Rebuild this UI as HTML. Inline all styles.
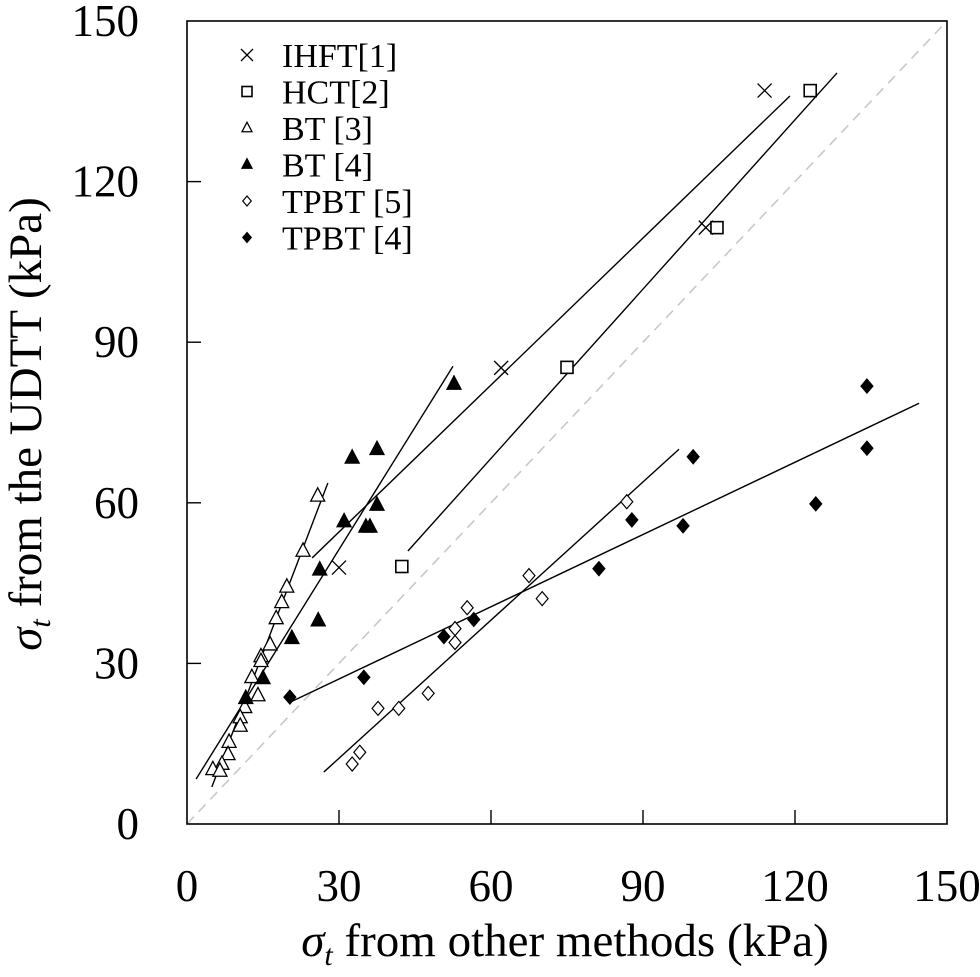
<!DOCTYPE html>
<html><head><meta charset="utf-8"><style>
html,body{margin:0;padding:0;background:#fff}
svg{display:block}
text{font-family:"Liberation Serif",serif;fill:#000}
</style></head><body>
<svg id="chart" width="980" height="977" viewBox="0 0 980 977" xmlns="http://www.w3.org/2000/svg">
<g id="plot"></g>
</svg>
<script>
const ticks=[0,30,60,90,120,150];
const seriesNames=["IHFT[1]","HCT[2]","BT [3]","BT [4]","TPBT [5]","TPBT [4]"];
const ihftX=[30,62,102.4,114];
const ihftY=[47.9,85.2,111.4,137];
const hctX=[42.4,75,104.6,123];
const hctY=[48.1,85.3,111.4,137];
const bt3X=[25.8,22.9,19.7,18.7,17.6,16.4,14.6,14.6,12.8,14,11.4,10.5,10.5,8.3,8.1,6.9,5.1,6.5];
const bt3Y=[61.3,51,44.3,41.4,38.4,33.5,31.3,30.4,27.4,24,21.8,19.9,18.3,15.3,13,11.2,10.2,9.9];
const bt4X=[31,26.2,25.9,20.7,15,11.6,32.6,37.5,37.5,36.1,35.3,52.7];
const bt4Y=[56.5,47.5,38,34.7,27.2,23.5,68.4,70,59.6,55.5,55.5,82.2];
const tp5X=[32.6,34.1,37.7,41.8,47.6,52.9,52.9,55.3,67.5,70.1,86.8];
const tp5Y=[11.2,13.4,21.6,21.6,24.4,36.5,33.9,40.4,46.4,42.1,60.2];
const tp4X=[20.3,34.9,50.7,56.6,81.3,87.8,97.9,99.9,124.1,134.2,134.2];
const tp4Y=[23.7,27.4,35,38.2,47.7,56.8,55.7,68.6,59.8,81.8,70.2];
// fit lines: [x1,y1,x2,y2]
const fitIhft=[24.7,49.7,119,136];
const fitHct=[43.6,51,128.3,140.3];
const fitBt3=[4.9,6.9,27.8,63.7];
const fitBt4=[1.8,8.4,52.5,85.5];
const fitTp5=[27,9.7,97.1,70];
const fitTp4=[20.7,22.9,144.5,78.6];

const X0=187,X1=947,Y0=824,Y1=21;
const sx=v=>X0+(X1-X0)*v/150;
const sy=v=>Y0-(Y0-Y1)*v/150;
const NS="http://www.w3.org/2000/svg";
const g=document.getElementById('plot');
function el(tag,attrs,parent){const e=document.createElementNS(NS,tag);for(const k in attrs)e.setAttribute(k,attrs[k]);(parent||g).appendChild(e);return e;}

const diag=el('line',{x1:sx(0),y1:sy(0),x2:sx(150),y2:sy(150),stroke:'#c8c8c8','stroke-width':1.6,'stroke-dasharray':'10,7'});



const fr=el('rect',{x:X0,y:Y1,width:X1-X0,height:Y0-Y1,fill:'none',stroke:'#000','stroke-width':1.6});



ticks.forEach((t,i)=>{
  if(i>0&&i<ticks.length-1){
    const a=el('line',{x1:sx(t),y1:Y0,x2:sx(t),y2:Y0-14,stroke:'#000','stroke-width':1.4});
    
    
    const b=el('line',{x1:X0,y1:sy(t),x2:X0+14,y2:sy(t),stroke:'#000','stroke-width':1.4});
    
    
  }
  const xl=el('text',{x:sx(t),y:901,'text-anchor':'middle','font-size':45});
  xl.textContent=t;
  
  
  const yl=el('text',{x:139,y:sy(t)+15,'text-anchor':'end','font-size':45});
  yl.textContent=t;
  
  
});

const xt=el('text',{x:565,y:956,'text-anchor':'middle','font-size':47});
xt.innerHTML='<tspan font-style="italic">σ</tspan><tspan font-style="italic" font-size="30" dy="9">t</tspan><tspan dy="-9"> from other methods (kPa)</tspan>';


const yt=el('text',{x:0,y:0,'text-anchor':'middle','font-size':47,transform:'translate(41,424) rotate(-90)'});
yt.innerHTML='<tspan font-style="italic">σ</tspan><tspan font-style="italic" font-size="30" dy="9">t</tspan><tspan dy="-9"> from the UDTT (kPa)</tspan>';



[[fitIhft,'fit-line-ihft'],[fitHct,'fit-line-hct'],[fitBt3,'fit-line-bt3'],[fitBt4,'fit-line-bt4'],[fitTp5,'fit-line-tpbt5'],[fitTp4,'fit-line-tpbt4']].forEach(([f,n])=>{
  const l=el('line',{x1:sx(f[0]),y1:sy(f[1]),x2:sx(f[2]),y2:sy(f[3]),stroke:'#000','stroke-width':1.4});
  
  
});

function marker(type,cx,cy,s,parent){
  let m;
  if(type==='x'){m=el('path',{d:`M${cx-s} ${cy-s}L${cx+s} ${cy+s}M${cx-s} ${cy+s}L${cx+s} ${cy-s}`,stroke:'#000','stroke-width':1.3,fill:'none'},parent);}
  else if(type==='sq'){m=el('rect',{x:cx-s,y:cy-s,width:2*s,height:2*s,fill:'#fff',stroke:'#000','stroke-width':1.6},parent);}
  else if(type==='tri'||type==='ftri'){m=el('path',{d:`M${cx} ${cy-s*1.15}L${cx+s} ${cy+s*0.75}L${cx-s} ${cy+s*0.75}Z`,fill:type==='tri'?'#fff':'#000',stroke:'#000','stroke-width':1.3},parent);}
  else {m=el('path',{d:`M${cx} ${cy-s}L${cx+s*0.85} ${cy}L${cx} ${cy+s}L${cx-s*0.85} ${cy}Z`,fill:type==='dia'?'#fff':'#000',stroke:'#000','stroke-width':1.2},parent);}
  return m;
}
const sets=[[ihftX,ihftY,'x',7,'point-ihft'],[hctX,hctY,'sq',6,'point-hct'],[bt3X,bt3Y,'tri',7,'point-bt3'],[bt4X,bt4Y,'ftri',7,'point-bt4'],[tp5X,tp5Y,'dia',7,'point-tpbt5'],[tp4X,tp4Y,'fdia',7,'point-tpbt4']];
sets.forEach(([xs,ys,t,s,n])=>{
  xs.forEach((v,i)=>{
    const m=marker(t,sx(v),sy(ys[i]),s);
    
    
  });
});

const lg=el('g',{});


const types=['x','sq','tri','ftri','dia','fdia'];
seriesNames.forEach((nm,i)=>{
  const y=55+i*36.5;
  const m=marker(types[i],247,y,types[i]==='x'?6:5,lg);
  
  
  const t=el('text',{x:282,y:y+12,'font-size':34},lg);
  t.textContent=nm;
  
  
});
</script>
</body></html>
